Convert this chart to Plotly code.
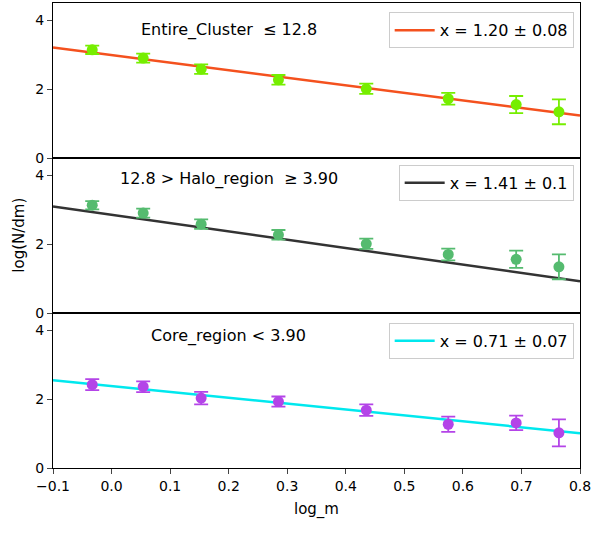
import plotly.graph_objects as go
from plotly.subplots import make_subplots

log_m = [-0.033, 0.054, 0.153, 0.285, 0.435, 0.575, 0.691, 0.764]

entire_y = [3.14, 2.90, 2.58, 2.27, 2.01, 1.72, 1.55, 1.34]
entire_err = [0.12, 0.13, 0.14, 0.14, 0.15, 0.17, 0.25, 0.36]
halo_y = [3.13, 2.90, 2.58, 2.27, 2.01, 1.70, 1.56, 1.34]
halo_err = [0.12, 0.13, 0.14, 0.14, 0.15, 0.17, 0.25, 0.36]
core_y = [2.42, 2.36, 2.03, 1.93, 1.68, 1.27, 1.31, 1.02]
core_err = [0.16, 0.155, 0.18, 0.146, 0.165, 0.22, 0.21, 0.39]

fit_x = [-0.1, 0.8]
fit_intercept = [2.99, 2.85, 2.38]
fit_slope = [-2.20, -2.41, -1.71]
fit_labels = ["x = 1.20 ± 0.08", "x = 1.41 ± 0.1", "x = 0.71 ± 0.07"]
NB = "\u00a0"
panel_titles = [f"Entire_Cluster{NB}{NB}≤{NB}12.8",
                f"12.8 > Halo_region{NB}{NB}≥{NB}3.90",
                "Core_region < 3.90"]

marker_colors = ["#76ee00", "#55bb6f", "#b444e8"]
line_colors = ["#f4511e", "#333333", "#00e8ee"]

FONT = "DejaVu Sans, sans-serif"

fig = make_subplots(rows=3, cols=1, shared_xaxes=True, vertical_spacing=0)

series = [(entire_y, entire_err), (halo_y, halo_err), (core_y, core_err)]
legend_names = ["legend", "legend2", "legend3"]
legend_ys = [0.98, 0.652, 0.312]
title_ys = [3.72, 3.89, 3.84]

for i, (ys, errs) in enumerate(series):
    r = i + 1
    fit_y = [fit_intercept[i] + fit_slope[i] * x for x in fit_x]
    fig.add_trace(go.Scatter(
        x=fit_x, y=fit_y, mode="lines",
        line=dict(color=line_colors[i], width=2.5),
        name=fit_labels[i], legend=legend_names[i], showlegend=True,
    ), row=r, col=1)
    fig.add_trace(go.Scatter(
        x=log_m, y=ys, mode="markers",
        marker=dict(color=marker_colors[i], size=11),
        error_y=dict(type="data", array=errs, color=marker_colors[i], thickness=1.8, width=7),
        showlegend=False,
    ), row=r, col=1)
    fig.add_annotation(
        x=0.2, y=title_ys[i], xref=f"x{'' if r == 1 else r}", yref=f"y{'' if r == 1 else r}",
        text=panel_titles[i], showarrow=False,
        font=dict(family=FONT, size=16, color="black"),
    )

legend_style = dict(
    xanchor="right", x=0.988, yanchor="top",
    bgcolor="white", bordercolor="#cccccc", borderwidth=1,
    font=dict(family=FONT, size=16, color="black"),
    itemwidth=40,
)
fig.update_layout(
    legend=dict(y=legend_ys[0], **legend_style),
    legend2=dict(y=legend_ys[1], **legend_style),
    legend3=dict(y=legend_ys[2], **legend_style),
)

for r in range(1, 4):
    fig.update_yaxes(
        range=[0, 4.5], tickvals=[0, 2, 4], ticks="outside", ticklen=5,
        showline=True, linecolor="black", linewidth=1, mirror=True,
        showgrid=False, zeroline=False, automargin=False,
        tickfont=dict(family=FONT, size=14, color="black"),
        row=r, col=1,
    )
    fig.update_xaxes(
        range=[-0.1, 0.8], dtick=0.1, tick0=-0.1,
        ticks="outside" if r == 3 else "", ticklen=5,
        showticklabels=(r == 3), tickformat=".1f",
        showline=True, linecolor="black", linewidth=1, mirror=True,
        showgrid=False, zeroline=False, automargin=False,
        tickfont=dict(family=FONT, size=14, color="black"),
        row=r, col=1,
    )

fig.update_xaxes(title=dict(text="log_m", font=dict(family=FONT, size=15, color="black"), standoff=10), row=3, col=1)
fig.add_annotation(
    text="log(N/dm)", xref="paper", yref="paper", x=-0.066, y=0.5, xanchor="center", yanchor="middle",
    textangle=-90, showarrow=False, font=dict(family=FONT, size=15, color="black"),
)

fig.update_layout(
    width=595, height=538,
    margin=dict(l=53, r=15, t=3, b=70, autoexpand=False),
    plot_bgcolor="white", paper_bgcolor="white",
    font=dict(family=FONT, color="black"),
)

fig.write_html("out.html", config={"displayModeBar": False},
               post_script="document.body.style.margin='0';")
